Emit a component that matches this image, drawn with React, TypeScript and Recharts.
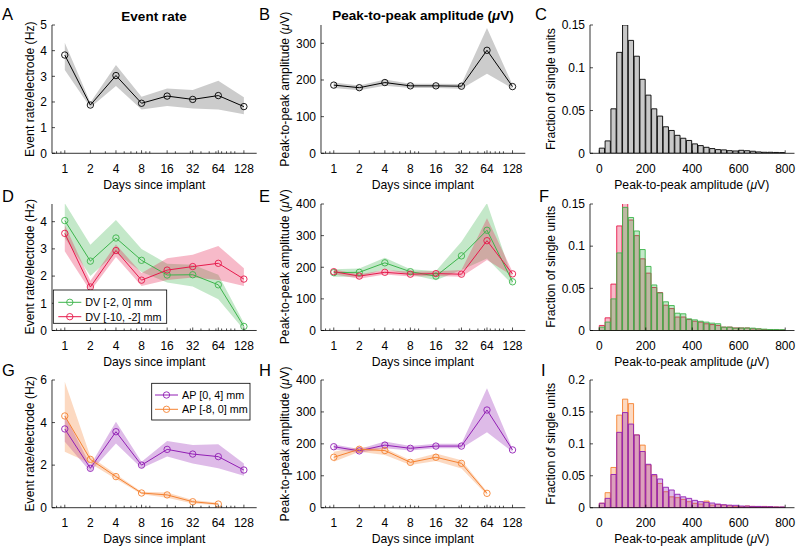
import React from 'react';
import { ComposedChart, Area, Line, Bar, XAxis, YAxis } from 'recharts';

const FONT = '"Liberation Sans", Arial, Helvetica, sans-serif';

const GREEN = '#3cb44b';
const RED = '#e6194b';
const PURPLE = '#911eb4';
const ORANGE = '#f58231';

// x axis: days since implant (log2 scale)
const DAYS = [1, 2, 4, 8, 16, 32, 64, 128];
const DAY_TICKS = [0, 1, 2, 3, 4, 5, 6, 7];
const MINOR_DAYS = [0.8, 0.9, 3, 5, 6, 7, 9, 10, 20, 30, 40, 50, 60, 70, 80, 90, 100];
const AMP_TICKS = [0, 200, 400, 600, 800];
const BIN_CENTERS = [
  12.5, 37.5, 62.5, 87.5, 112.5, 137.5, 162.5, 187.5, 212.5, 237.5, 262.5, 287.5, 312.5, 337.5, 362.5, 387.5,
  412.5, 437.5, 462.5, 487.5, 512.5, 537.5, 562.5, 587.5, 612.5, 637.5, 662.5, 687.5, 712.5, 737.5, 762.5, 787.5,
];

// A: event rate, all
const rateAll = [3.83, 1.88, 3.03, 1.95, 2.23, 2.1, 2.25, 1.82];
const rateAllLo = [3.25, 1.78, 2.62, 1.71, 1.84, 1.75, 1.71, 1.52];
const rateAllHi = [4.31, 1.98, 3.44, 2.2, 2.53, 2.47, 2.83, 2.18];

// B: amplitude, all
const ampAll = [186, 179, 193, 184, 184, 183, 281, 182];
const ampAllLo = [178, 172, 184, 178, 178, 176, 217, 177];
const ampAllHi = [193, 185, 201, 190, 190, 189, 342, 187];

// C: amplitude histogram, all
const histAll = [
  0.006, 0.0145, 0.052, 0.118, 0.15, 0.132, 0.1135, 0.0865, 0.068, 0.052, 0.0435, 0.031, 0.0267, 0.021, 0.0176, 0.015,
  0.011, 0.009, 0.007, 0.0055, 0.0043, 0.004, 0.0031, 0.0027, 0.0035, 0.003, 0.0024, 0.0016, 0.0012, 0.0012, 0.001, 0.0008,
];

// D: event rate by DV depth
const rateDvShallow = [4.04, 2.55, 3.4, 2.58, 2.04, 2.05, 1.68, 0.15];
const rateDvShallowLo = [3.4, 2.0, 2.85, 2.15, 1.76, 1.62, 1.15, 0.03];
const rateDvShallowHi = [4.68, 3.15, 4.06, 3.0, 2.45, 2.42, 2.05, 0.28];
const rateDvDeep = [3.57, 1.6, 2.94, 1.85, 2.22, 2.35, 2.47, 1.89];
const rateDvDeepLo = [2.91, 1.45, 2.7, 1.64, 1.86, 1.95, 1.86, 1.64];
const rateDvDeepHi = [3.88, 1.83, 3.16, 2.11, 2.66, 2.78, 3.11, 2.29];

// E: amplitude by DV depth
const ampDvShallow = [183, 184, 214, 186, 172, 236, 317, 154];
const ampDvShallowLo = [170, 170, 194, 177, 159, 191, 228, 145];
const ampDvShallowHi = [194, 196, 230, 194, 188, 281, 403, 164];
const ampDvDeep = [186, 172, 184, 178, 180, 178, 284, 179];
const ampDvDeepLo = [178, 164, 177, 171, 172, 170, 223, 173];
const ampDvDeepHi = [193, 178, 191, 186, 187, 191, 355, 186];

// F: amplitude histograms by DV depth
const histDvDeep = [
  0.006, 0.015, 0.055, 0.124, 0.151, 0.131, 0.1125, 0.085, 0.068, 0.051, 0.045, 0.03, 0.026, 0.016, 0.016, 0.013,
  0.011, 0.0099, 0.008, 0.007, 0.006, 0.004, 0.004, 0.003, 0.003, 0.003, 0.002, 0.0018, 0.0012, 0.001, 0.0008, 0.0006,
];
const histDvShallow = [
  0.004, 0.01, 0.0375, 0.092, 0.146, 0.134, 0.118, 0.096, 0.076, 0.054, 0.0445, 0.034, 0.0296, 0.0205, 0.0198, 0.0138,
  0.0126, 0.011, 0.0099, 0.0087, 0.008, 0.004, 0.004, 0.0028, 0.003, 0.003, 0.0028, 0.002, 0.0016, 0.0012, 0.0012, 0.001,
];

// G: event rate by AP position
const rateApFront = [3.7, 1.85, 3.57, 2.0, 2.74, 2.52, 2.4, 1.77];
const rateApFrontLo = [3.1, 1.69, 3.02, 1.85, 2.4, 2.08, 1.85, 1.5];
const rateApFrontHi = [4.36, 2.0, 4.04, 2.16, 3.13, 2.95, 2.98, 2.08];
const rateApBack = [4.31, 2.27, 1.46, 0.69, 0.6, 0.28, 0.17, null];
const rateApBackLo = [2.63, 2.08, 1.35, 0.63, 0.47, 0.2, 0.13, null];
const rateApBackHi = [5.92, 2.4, 1.57, 0.75, 0.71, 0.36, 0.23, null];

// H: amplitude by AP position
const ampApFront = [191, 178, 196, 186, 193, 193, 306, 181];
const ampApFrontLo = [183, 171, 186, 179, 186, 186, 236, 175];
const ampApFrontHi = [198, 184, 207, 193, 200, 200, 374, 184];
const ampApBack = [158, 183, 179, 142, 158, 139, 45, null];
const ampApBackLo = [144, 175, 165, 134, 146, 123, 40, null];
const ampApBackHi = [175, 190, 186, 149, 170, 149, 50, null];

// I: amplitude histograms by AP position
const histApBack = [
  0.007, 0.0235, 0.063, 0.145, 0.17, 0.163, 0.114, 0.098, 0.067, 0.05, 0.038, 0.025, 0.017, 0.0157, 0.013, 0.0094,
  0.0068, 0.0057, 0.0104, 0.004, 0.005, 0.004, 0.003, 0.002, 0.0016, 0.0026, 0.002, 0.0016, 0.002, 0.0016, 0.0012, 0.0008,
];
const histApFront = [
  0.007, 0.0146, 0.052, 0.118, 0.149, 0.131, 0.114, 0.088, 0.068, 0.052, 0.045, 0.032, 0.0277, 0.021, 0.017, 0.0146,
  0.0115, 0.0094, 0.0084, 0.0073, 0.0057, 0.0047, 0.004, 0.0037, 0.0026, 0.0026, 0.002, 0.002, 0.0016, 0.0016, 0.0012, 0.0012,
];

const COLS = [
  { x0: 52, x1: 256.7 },
  { x0: 320.7, x1: 525 },
  { x0: 589.5, x1: 794 },
];
const ROWS = [
  { y0: 25, y1: 153.3 },
  { y0: 203.5, y1: 330 },
  { y0: 380, y1: 507.7 },
];

const ML = 60;
const MT = 10;
const MR = 10;
const MB = 40;

const axisStyle = { stroke: '#000', strokeWidth: 0.8 };
const LOG_TICKS = [...DAY_TICKS, ...MINOR_DAYS.map((d) => Math.log2(d))];

function LogTick(props: any) {
  const { x, y, payload } = props;
  const v = payload.value;
  const major = DAY_TICKS.includes(v);
  return (
    <g>
      <line x1={x} x2={x} y1={y} y2={y - (major ? 3 : 2)} stroke="#000" strokeWidth={0.7} />
      {major ? (
        <text x={x} y={y + 19.5} textAnchor="middle" fontSize={12} fontFamily={FONT} fill="#000">
          {2 ** v}
        </text>
      ) : null}
    </g>
  );
}

function LinTick(props: any) {
  const { x, y, payload } = props;
  return (
    <g>
      <line x1={x} x2={x} y1={y} y2={y - 3} stroke="#000" strokeWidth={0.7} />
      <text x={x} y={y + 19.5} textAnchor="middle" fontSize={12} fontFamily={FONT} fill="#000">
        {payload.value}
      </text>
    </g>
  );
}

function YTick(props: any) {
  const { x, y, payload } = props;
  return (
    <g>
      <line x1={x} x2={x + 3} y1={y} y2={y} stroke="#000" strokeWidth={0.7} />
      <text x={x - 5} y={y + 4.3} textAnchor="end" fontSize={12} fontFamily={FONT} fill="#000">
        {payload.value}
      </text>
    </g>
  );
}

type Trend = { mean: (number | null)[]; lo: (number | null)[]; hi: (number | null)[]; color: string; band: string; alpha: number };

function TrendPanel({ col, row, yDomain, yTicks, series }: { col: number; row: number; yDomain: number[]; yTicks: number[]; series: Trend[] }) {
  const { x0, x1 } = COLS[col];
  const { y0, y1 } = ROWS[row];
  const data = DAYS.map((d, i) => {
    const r: any = { lx: Math.log2(d) };
    series.forEach((s, k) => {
      r['m' + k] = s.mean[i];
      r['b' + k] = s.lo[i] == null ? null : [s.lo[i], s.hi[i]];
    });
    return r;
  });
  return (
    <div style={{ position: 'absolute', left: x0 - ML, top: y0 - MT }}>
      <ComposedChart width={x1 - x0 + ML + MR} height={y1 - y0 + MT + MB} data={data} margin={{ top: MT, right: MR, left: 0, bottom: 0 }}>
        <XAxis dataKey="lx" type="number" domain={[-0.5, 7.5]} allowDataOverflow ticks={LOG_TICKS} interval={0} tick={LogTick} tickSize={0} tickMargin={0} tickLine={false} axisLine={axisStyle} height={MB} />
        <YAxis type="number" domain={yDomain} allowDataOverflow ticks={yTicks} interval={0} tick={YTick} tickSize={0} tickMargin={0} tickLine={false} axisLine={axisStyle} width={ML} />
        {series.map((s, k) => (
          <Area key={'b' + k} dataKey={'b' + k} type="linear" stroke="none" fill={s.band} fillOpacity={s.alpha} isAnimationActive={false} activeDot={false} dot={false} />
        ))}
        {series.map((s, k) => (
          <Line key={'m' + k} dataKey={'m' + k} type="linear" stroke={s.color} strokeWidth={1} dot={{ r: 3.2, fill: 'none', stroke: s.color, strokeWidth: 0.9 }} activeDot={false} isAnimationActive={false} />
        ))}
      </ComposedChart>
    </div>
  );
}

type Hist = { values: number[]; stroke: string; fill: string; alpha: number };

// each histogram series gets its own (hidden) axis pair so the bars overlay instead of sitting side by side
function HistPanel({ row, yDomain, yTicks, series }: { row: number; yDomain: number[]; yTicks: number[]; series: Hist[] }) {
  const { x0, x1 } = COLS[2];
  const { y0, y1 } = ROWS[row];
  const barW = ((x1 - x0) * 25) / 880;
  const data = BIN_CENTERS.map((c, i) => {
    const r: any = { c };
    series.forEach((s, k) => {
      r['h' + k] = s.values[i];
    });
    return r;
  });
  return (
    <div style={{ position: 'absolute', left: x0 - ML, top: y0 - MT }}>
      <ComposedChart width={x1 - x0 + ML + MR} height={y1 - y0 + MT + MB} data={data} margin={{ top: MT, right: MR, left: 0, bottom: 0 }}>
        <XAxis xAxisId="x0" dataKey="c" type="number" domain={[-40, 840]} allowDataOverflow ticks={AMP_TICKS} interval={0} tick={LinTick} tickSize={0} tickMargin={0} tickLine={false} axisLine={axisStyle} height={MB} />
        <XAxis xAxisId="x1" dataKey="c" type="number" domain={[-40, 840]} allowDataOverflow hide />
        <YAxis yAxisId="y0" type="number" domain={yDomain} allowDataOverflow ticks={yTicks} interval={0} tick={YTick} tickSize={0} tickMargin={0} tickLine={false} axisLine={axisStyle} width={ML} />
        <YAxis yAxisId="y1" type="number" domain={yDomain} allowDataOverflow hide />
        {series.map((s, k) => (
          <Bar key={'h' + k} xAxisId={'x' + k} yAxisId={'y' + k} dataKey={'h' + k} barSize={barW} fill={s.fill} fillOpacity={s.alpha} stroke={s.stroke} strokeWidth={0.9} isAnimationActive={false} />
        ))}
      </ComposedChart>
    </div>
  );
}

function Mu() {
  return <tspan fontStyle="italic">μ</tspan>;
}

function Overlay() {
  const t = { fontFamily: FONT, fill: '#000' };
  const letters: [string, number, number][] = [
    ['A', 2, 19.5], ['B', 259, 19.5], ['C', 535, 19.5],
    ['D', 2, 201.5], ['E', 259, 201.5], ['F', 539, 201.5],
    ['G', 2, 376], ['H', 259, 376], ['I', 541, 376],
  ];
  const ylab = (col: number, row: number, content: React.ReactNode) => {
    const cx = [30, 285, 551][col];
    const cy = (ROWS[row].y0 + ROWS[row].y1) / 2;
    return (
      <text key={`yl${col}${row}`} x={cx} y={cy} transform={`rotate(-90 ${cx} ${cy})`} textAnchor="middle" dominantBaseline="central" fontSize={12.2} {...t}>
        {content}
      </text>
    );
  };
  const xlab = (col: number, row: number, content: React.ReactNode) => {
    const cx = (COLS[col].x0 + COLS[col].x1) / 2;
    return (
      <text key={`xl${col}${row}`} x={cx} y={ROWS[row].y1 + 35.5} textAnchor="middle" fontSize={12.2} {...t}>
        {content}
      </text>
    );
  };
  const amp = (
    <>
      Peak-to-peak amplitude (<Mu />V)
    </>
  );
  const legendItem = (x: number, y: number, color: string, label: string) => (
    <g key={label}>
      <line x1={x} x2={x + 23} y1={y} y2={y} stroke={color} strokeWidth={1} />
      <circle cx={x + 11.5} cy={y} r={3.2} fill="none" stroke={color} strokeWidth={0.9} />
      <text x={x + 27} y={y + 3.8} fontSize={10.8} {...t}>
        {label}
      </text>
    </g>
  );
  return (
    <svg width={798} height={548} style={{ position: 'absolute', left: 0, top: 0, pointerEvents: 'none' }}>
      {letters.map(([s, x, y]) => (
        <text key={s} x={x} y={y} fontSize={16.5} {...t}>
          {s}
        </text>
      ))}
      <text x={154} y={20.5} textAnchor="middle" fontSize={13.5} fontWeight="bold" {...t}>
        Event rate
      </text>
      <text x={423} y={20} textAnchor="middle" fontSize={13.5} fontWeight="bold" {...t}>
        Peak-to-peak amplitude (<Mu />V)
      </text>
      {[0, 1, 2].map((r) => ylab(0, r, 'Event rate/electrode (Hz)'))}
      {[0, 1, 2].map((r) => ylab(1, r, amp))}
      {[0, 1, 2].map((r) => ylab(2, r, 'Fraction of single units'))}
      {[0, 1, 2].map((r) => xlab(0, r, 'Days since implant'))}
      {[0, 1, 2].map((r) => xlab(1, r, 'Days since implant'))}
      {[0, 1, 2].map((r) => xlab(2, r, amp))}
      <rect x={53.3} y={290} width={113.4} height={33.3} fill="#fff" stroke="#000" strokeWidth={0.8} />
      {legendItem(58.3, 302.3, GREEN, 'DV [-2, 0] mm')}
      {legendItem(58.3, 316.7, RED, 'DV [-10, -2] mm')}
      <rect x={151.7} y={383.3} width={98.3} height={36.7} fill="#fff" stroke="#000" strokeWidth={0.8} />
      {legendItem(155, 395, PURPLE, 'AP [0, 4] mm')}
      {legendItem(155, 409.3, ORANGE, 'AP [-8, 0] mm')}
    </svg>
  );
}

export default function App() {
  return (
    <div style={{ position: 'absolute', left: 0, top: 0, width: 798, height: 548, background: '#fff', fontFamily: FONT }}>
      <TrendPanel col={0} row={0} yDomain={[0, 5]} yTicks={[0, 1, 2, 3, 4, 5]} series={[{ mean: rateAll, lo: rateAllLo, hi: rateAllHi, color: '#000', band: '#000', alpha: 0.2 }]} />
      <TrendPanel col={1} row={0} yDomain={[0, 350]} yTicks={[0, 100, 200, 300]} series={[{ mean: ampAll, lo: ampAllLo, hi: ampAllHi, color: '#000', band: '#000', alpha: 0.2 }]} />
      <HistPanel row={0} yDomain={[0, 0.15]} yTicks={[0, 0.05, 0.1, 0.15]} series={[{ values: histAll, stroke: '#000', fill: '#c8c8c8', alpha: 1 }]} />

      <TrendPanel
        col={0}
        row={1}
        yDomain={[0, 4.65]}
        yTicks={[0, 1, 2, 3, 4]}
        series={[
          { mean: rateDvShallow, lo: rateDvShallowLo, hi: rateDvShallowHi, color: GREEN, band: GREEN, alpha: 0.3 },
          { mean: rateDvDeep, lo: rateDvDeepLo, hi: rateDvDeepHi, color: RED, band: RED, alpha: 0.3 },
        ]}
      />
      <TrendPanel
        col={1}
        row={1}
        yDomain={[0, 400]}
        yTicks={[0, 100, 200, 300, 400]}
        series={[
          { mean: ampDvShallow, lo: ampDvShallowLo, hi: ampDvShallowHi, color: GREEN, band: GREEN, alpha: 0.3 },
          { mean: ampDvDeep, lo: ampDvDeepLo, hi: ampDvDeepHi, color: RED, band: RED, alpha: 0.3 },
        ]}
      />
      <HistPanel
        row={1}
        yDomain={[0, 0.15]}
        yTicks={[0, 0.05, 0.1, 0.15]}
        series={[
          { values: histDvDeep, stroke: RED, fill: RED, alpha: 0.3 },
          { values: histDvShallow, stroke: GREEN, fill: GREEN, alpha: 0.3 },
        ]}
      />

      <TrendPanel
        col={0}
        row={2}
        yDomain={[0, 6]}
        yTicks={[0, 2, 4, 6]}
        series={[
          { mean: rateApFront, lo: rateApFrontLo, hi: rateApFrontHi, color: PURPLE, band: PURPLE, alpha: 0.3 },
          { mean: rateApBack, lo: rateApBackLo, hi: rateApBackHi, color: ORANGE, band: ORANGE, alpha: 0.3 },
        ]}
      />
      <TrendPanel
        col={1}
        row={2}
        yDomain={[0, 400]}
        yTicks={[0, 100, 200, 300, 400]}
        series={[
          { mean: ampApFront, lo: ampApFrontLo, hi: ampApFrontHi, color: PURPLE, band: PURPLE, alpha: 0.3 },
          { mean: ampApBack, lo: ampApBackLo, hi: ampApBackHi, color: ORANGE, band: ORANGE, alpha: 0.3 },
        ]}
      />
      <HistPanel
        row={2}
        yDomain={[0, 0.2]}
        yTicks={[0, 0.05, 0.1, 0.15, 0.2]}
        series={[
          { values: histApBack, stroke: ORANGE, fill: ORANGE, alpha: 0.3 },
          { values: histApFront, stroke: PURPLE, fill: PURPLE, alpha: 0.3 },
        ]}
      />

      <Overlay />
    </div>
  );
}
